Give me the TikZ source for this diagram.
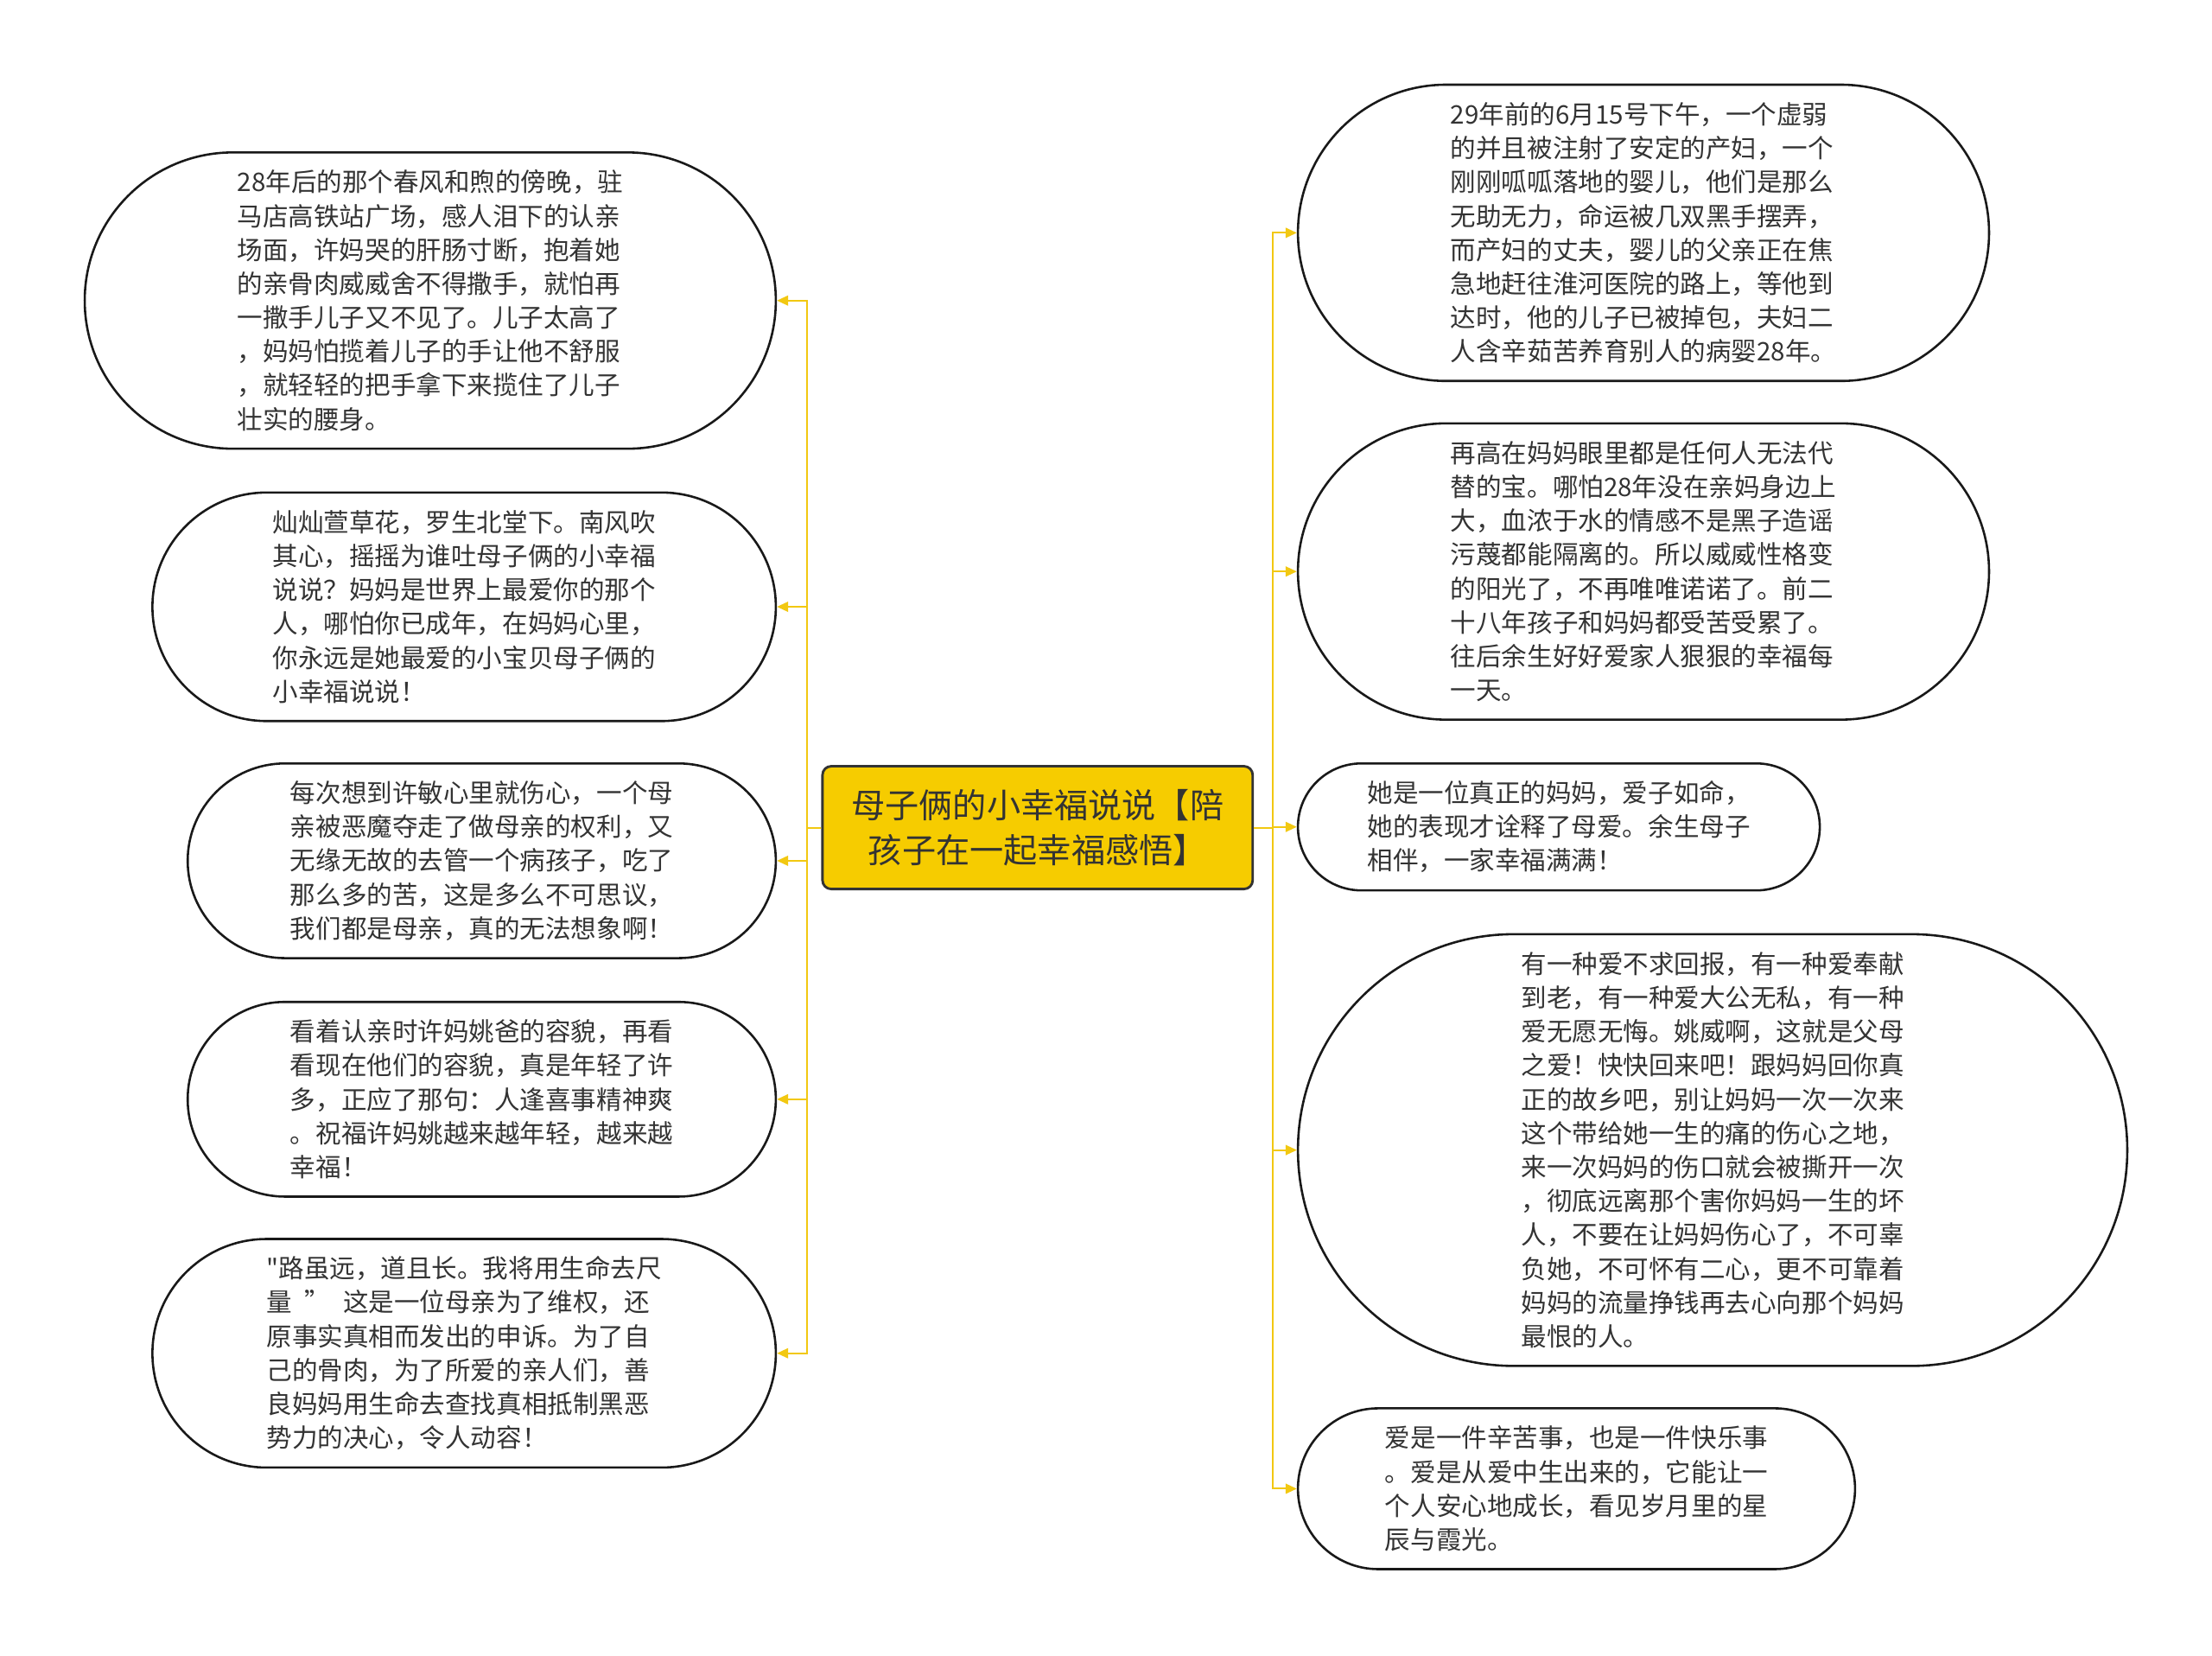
\documentclass[tikz,border=0pt]{standalone}
\usepackage{fontspec}
\newfontfamily\cjk{Noto Sans CJK SC}
\definecolor{branchyellow}{HTML}{F2C811}
\definecolor{topicfill}{HTML}{F6CC00}
\definecolor{inktext}{HTML}{333333}
\usetikzlibrary{positioning, arrows.meta, shapes.misc}

\begin{document}
\begin{tikzpicture}[x={(0.02cm,0)}, y={(0,-0.02cm)},
    topic/.style={rectangle, rounded corners=3.5pt, draw=inktext, line width=1pt, fill=topicfill, text=inktext, inner sep=0pt, align=center, font=\cjk\fontsize{13.66}{18.2}\selectfont},
    leaf/.style={rounded rectangle, draw=black!90, line width=0.9pt, fill=white, text=inktext, inner xsep=0pt, inner ysep=2pt, align=left, font=\cjk\fontsize{10.3}{13.66}\selectfont},
    branch/.style={draw=branchyellow, line width=0.7pt, -{Triangle[length=4.5pt,width=4pt]}},
]
\fill[white] (0,0) rectangle (1568,1173);
\node[topic, minimum width=6.1cm, minimum height=1.74cm] (topic) at (735.5,586.5) {母子俩的小幸福说说【陪\\孩子在一起幸福感悟】};
\node[leaf, minimum width=9.8cm, minimum height=4.2cm] (l1) at (305,213) {28年后的那个春风和煦的傍晚，驻\\
马店高铁站广场，感人泪下的认亲\\
场面，许妈哭的肝肠寸断，抱着她\\
的亲骨肉威威舍不得撒手，就怕再\\
一撒手儿子又不见了。儿子太高了\\
，妈妈怕揽着儿子的手让他不舒服\\
，就轻轻的把手拿下来揽住了儿子\\
壮实的腰身。};
\node[leaf, minimum width=8.84cm, minimum height=3.24cm] (l2) at (329,430) {灿灿萱草花，罗生北堂下。南风吹\\
其心，摇摇为谁吐母子俩的小幸福\\
说说？妈妈是世界上最爱你的那个\\
人，哪怕你已成年，在妈妈心里，\\
你永远是她最爱的小宝贝母子俩的\\
小幸福说说！};
\node[leaf, minimum width=8.34cm, minimum height=2.76cm] (l3) at (341.5,610) {每次想到许敏心里就伤心，一个母\\
亲被恶魔夺走了做母亲的权利，又\\
无缘无故的去管一个病孩子，吃了\\
那么多的苦，这是多么不可思议，\\
我们都是母亲，真的无法想象啊！};
\node[leaf, minimum width=8.34cm, minimum height=2.76cm] (l4) at (341.5,779) {看着认亲时许妈姚爸的容貌，再看\\
看现在他们的容貌，真是年轻了许\\
多，正应了那句：人逢喜事精神爽\\
。祝福许妈姚越来越年轻，越来越\\
幸福！};
\node[leaf, minimum width=8.84cm, minimum height=3.24cm] (l5) at (329,959) {"路虽远，道且长。我将用生命去尺\\
量\hspace{0.5em}”\hspace{0.5em}这是一位母亲为了维权，还\\
原事实真相而发出的申诉。为了自\\
己的骨肉，为了所爱的亲人们，善\\
良妈妈用生命去查找真相抵制黑恶\\
势力的决心，令人动容！};
\node[leaf, minimum width=9.8cm, minimum height=4.2cm] (r1) at (1165,165) {29年前的6月15号下午，一个虚弱\\
的并且被注射了安定的产妇，一个\\
刚刚呱呱落地的婴儿，他们是那么\\
无助无力，命运被几双黑手摆弄，\\
而产妇的丈夫，婴儿的父亲正在焦\\
急地赶往淮河医院的路上，等他到\\
达时，他的儿子已被掉包，夫妇二\\
人含辛茹苦养育别人的病婴28年。};
\node[leaf, minimum width=9.8cm, minimum height=4.2cm] (r2) at (1165,405) {再高在妈妈眼里都是任何人无法代\\
替的宝。哪怕28年没在亲妈身边上\\
大，血浓于水的情感不是黑子造谣\\
污蔑都能隔离的。所以威威性格变\\
的阳光了，不再唯唯诺诺了。前二\\
十八年孩子和妈妈都受苦受累了。\\
往后余生好好爱家人狠狠的幸福每\\
一天。};
\node[leaf, minimum width=7.4cm, minimum height=1.8cm] (r3) at (1105,586) {她是一位真正的妈妈，爱子如命，\\
她的表现才诠释了母爱。余生母子\\
相伴，一家幸福满满！};
\node[leaf, minimum width=11.76cm, minimum height=6.12cm] (r4) at (1214,815) {有一种爱不求回报，有一种爱奉献\\
到老，有一种爱大公无私，有一种\\
爱无愿无悔。姚威啊，这就是父母\\
之爱！快快回来吧！跟妈妈回你真\\
正的故乡吧，别让妈妈一次一次来\\
这个带给她一生的痛的伤心之地，\\
来一次妈妈的伤口就会被撕开一次\\
，彻底远离那个害你妈妈一生的坏\\
人，不要在让妈妈伤心了，不可辜\\
负她，不可怀有二心，更不可靠着\\
妈妈的流量挣钱再去心向那个妈妈\\
最恨的人。};
\node[leaf, minimum width=7.9cm, minimum height=2.28cm] (r5) at (1117.5,1055) {爱是一件辛苦事，也是一件快乐事\\
。爱是从爱中生出来的，它能让一\\
个人安心地成长，看见岁月里的星\\
辰与霞光。};
\coordinate (lhub) at (572,586.5);
\coordinate (rhub) at (902,586.5);
\draw[branch] (topic.west) -- (lhub) |- (l1.east);
\draw[branch] (topic.west) -- (lhub) |- (l2.east);
\draw[branch] (topic.west) -- (lhub) |- (l3.east);
\draw[branch] (topic.west) -- (lhub) |- (l4.east);
\draw[branch] (topic.west) -- (lhub) |- (l5.east);
\draw[branch] (topic.east) -- (rhub) |- (r1.west);
\draw[branch] (topic.east) -- (rhub) |- (r2.west);
\draw[branch] (topic.east) -- (rhub) |- (r3.west);
\draw[branch] (topic.east) -- (rhub) |- (r4.west);
\draw[branch] (topic.east) -- (rhub) |- (r5.west);
\end{tikzpicture}
\end{document}
